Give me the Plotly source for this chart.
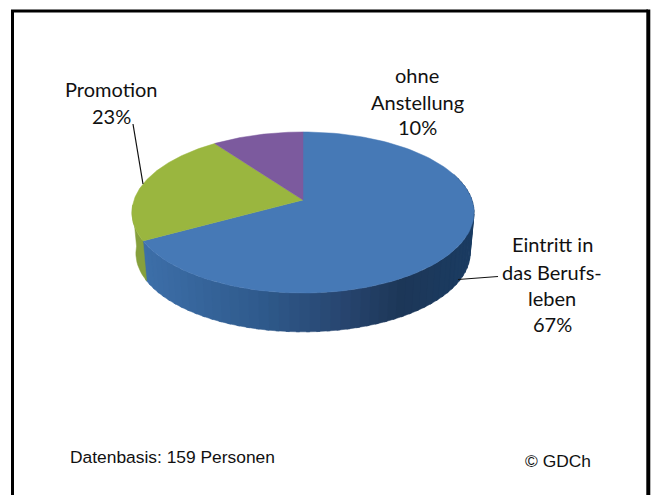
import numpy as np
import plotly.graph_objects as go

categories = ["Eintritt in das Berufsleben", "Promotion", "ohne Anstellung"]
values = [67, 23, 10]
top_colors = ["#4679b6", "#9ab63f", "#7c5a9e"]
footer_left = "Datenbasis: 159 Personen"
footer_right = "© GDCh"

W, H = 651, 495
CX, AY = 303.0, 200.0
K, A, B = 0.155, 78.6, 169.0
DEPTH, SHRINK = 41.0, 0.977


def project(theta_deg, lift=0.0, scale=1.0):
    t = np.radians(theta_deg)
    u, v = np.sin(t), -np.cos(t)
    d = 1 - K * v
    return CX + scale * B * u / d, AY + lift + scale * A * v / d


def side_colour(x):
    stops = [(140, (62, 112, 170)), (260, (47, 90, 140)), (340, (40, 70, 112)),
             (400, (29, 55, 88)), (470, (27, 60, 98))]
    xs = [s[0] for s in stops]
    return "rgb(%d,%d,%d)" % tuple(np.interp(x, xs, [s[1][i] for s in stops]) for i in range(3))


fig = go.Figure()

# sides first, from the share boundaries
fr = np.cumsum([0] + values) / sum(values) * 360
edges = np.arange(70, fr[1] + 0.01, 3.0)
edges = np.append(edges, fr[1])
for a, b in zip(edges[:-1], edges[1:]):
    th = np.array([a, b + 1.0 if b < fr[1] else b])
    x1, y1 = project(th)
    x2, y2 = project(th[::-1], DEPTH, SHRINK)
    c = side_colour(x1.mean())
    fig.add_trace(go.Scatter(x=np.r_[x1, x2, x1[0]], y=np.r_[y1, y2, y1[0]], mode="lines", fill="toself",
                             fillcolor=c, line=dict(color=c, width=0.5), hoverinfo="skip", showlegend=False))
th = np.linspace(fr[1], fr[1] + 25, 12)
x1, y1 = project(th)
x2, y2 = project(th[::-1], DEPTH, SHRINK)
fig.add_trace(go.Scatter(x=np.r_[x1, x2, x1[0]], y=np.r_[y1, y2, y1[0]], mode="lines", fill="toself",
                         fillcolor="#86a03c", line=dict(color="#86a03c", width=0.5), hoverinfo="skip", showlegend=False))

# top faces
for i, name in enumerate(categories):
    th = np.linspace(fr[i], fr[i + 1], 120)
    ex, ey = project(th)
    fig.add_trace(go.Scatter(x=np.r_[CX, ex, CX], y=np.r_[AY, ey, AY], mode="lines", fill="toself",
                             fillcolor=top_colors[i], line=dict(color=top_colors[i], width=0.5),
                             name=name, hoverinfo="name", showlegend=False))

FONT = "Lato"
SIZE = 20
labels = [
    (552, 244, "Eintritt in"), (552, 272, "das Berufs-"), (552, 298, "leben"),
    (552, 324, f"{values[0]}%"),
    (111, 89, categories[1]), (111, 116, f"{values[1]}%"),
    (417, 75, "ohne"), (417, 102, "Anstellung"), (417, 127, f"{values[2]}%"),
]
for x, y, t in labels:
    fig.add_annotation(x=x, y=y, text=t, showarrow=False, xanchor="center", yanchor="middle",
                       font=dict(family=FONT, size=SIZE, color="#111111"))
fig.add_annotation(x=68, y=457, text=footer_left, showarrow=False, xanchor="left", yanchor="middle",
                   font=dict(family="Liberation Sans", size=17.4, color="#111111"))
fig.add_annotation(x=523, y=461, text=footer_right, showarrow=False, xanchor="left", yanchor="middle",
                   font=dict(family="Liberation Sans", size=17.4, color="#111111"))

shapes = [
    dict(type="path", path="M 133 124 L 143 184", line=dict(color="#111111", width=1.2)),
    dict(type="path", path="M 458 279.5 L 498 276.5", line=dict(color="#111111", width=1.2)),
    dict(type="path", path="M 12.5 500 L 12.5 11 L 648 11", line=dict(color="#000000", width=3)),
    dict(type="path", path="M 648.3 9.5 L 648.3 500", line=dict(color="#000000", width=4)),
]
fig.update_layout(
    width=W, height=H, margin=dict(l=0, r=0, t=0, b=0), paper_bgcolor="white", plot_bgcolor="white",
    xaxis=dict(range=[0, W], visible=False, fixedrange=True),
    yaxis=dict(range=[H, 0], visible=False, fixedrange=True),
    shapes=shapes,
)
fig.write_html("out.html", config={"displayModeBar": False},
               post_script="document.body.style.margin='0';document.body.style.overflow='hidden';")
